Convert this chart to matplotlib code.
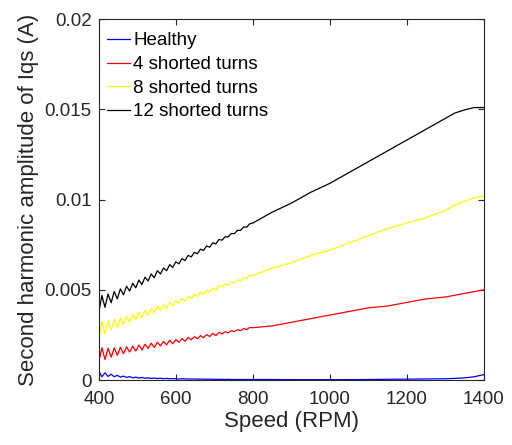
import matplotlib
matplotlib.use('Agg')
import matplotlib.pyplot as plt

plt.rcParams['font.family'] = ['Liberation Sans', 'DejaVu Sans']

# speed grid: fine steps where the ripple is, coarse afterwards
speed = [400, 408, 416, 424, 432, 440, 448, 456, 464, 472,
         480, 488, 496, 504, 512, 520, 528, 536, 544, 552,
         560, 568, 576, 584, 592, 600, 608, 616, 624, 632,
         640, 648, 656, 664, 672, 680, 688, 696, 704, 712,
         720, 728, 736, 744, 752, 760, 768, 776, 784, 792, 800,
         850, 900, 950, 1000, 1050, 1100, 1150, 1200, 1250, 1300, 1325, 1350, 1375, 1400]

healthy = [0.00050, 0.00018, 0.00040, 0.00020, 0.00032, 0.00018, 0.00026, 0.00016, 0.00022, 0.00014,
           0.00019, 0.00012, 0.00016, 0.00011, 0.00014, 0.00010, 0.00012, 0.00009, 0.00011, 0.00008,
           0.00010, 0.00007, 0.00009, 0.00007, 0.00008, 0.00007, 0.00006, 0.00007, 0.00006, 0.00006,
           0.00005, 0.00006, 0.00005, 0.00005, 0.00005, 0.00004, 0.00005, 0.00004, 0.00004, 0.00004,
           0.00004, 0.00003, 0.00004, 0.00003, 0.00003, 0.00003, 0.00003, 0.00003, 0.00003, 0.00003, 0.00003,
           0.00003, 0.00002, 0.00002, 0.00002, 0.00002, 0.00003, 0.00004, 0.00005, 0.00006, 0.00007,
           0.00009, 0.00012, 0.00018, 0.00030]

turns4 = [0.00100, 0.00179, 0.00114, 0.00176, 0.00127, 0.00178, 0.00137, 0.00181, 0.00146, 0.00184,
          0.00155, 0.00188, 0.00161, 0.00194, 0.00167, 0.00198, 0.00175, 0.00204, 0.00181, 0.00210,
          0.00189, 0.00214, 0.00195, 0.00220, 0.00201, 0.00224, 0.00209, 0.00230, 0.00215, 0.00236,
          0.00223, 0.00240, 0.00229, 0.00246, 0.00235, 0.00252, 0.00241, 0.00258, 0.00247, 0.00264,
          0.00256, 0.00267, 0.00262, 0.00273, 0.00268, 0.00279, 0.00274, 0.00285, 0.00280, 0.00291, 0.00290,
          0.0030, 0.0032, 0.0034, 0.0036, 0.0038, 0.0040, 0.0041, 0.0043, 0.0045, 0.0046,
          0.0047, 0.0048, 0.0049, 0.0050]

turns8 = [0.00235, 0.00326, 0.00257, 0.00328, 0.00276, 0.00336, 0.00292, 0.00344, 0.00308, 0.00353,
          0.00323, 0.00363, 0.00335, 0.00375, 0.00347, 0.00385, 0.00361, 0.00397, 0.00373, 0.00409,
          0.00388, 0.00418, 0.00400, 0.00430, 0.00412, 0.00440, 0.00426, 0.00452, 0.00438, 0.00464,
          0.00452, 0.00474, 0.00464, 0.00486, 0.00476, 0.00498, 0.00488, 0.00510, 0.00500, 0.00522,
          0.00515, 0.00531, 0.00527, 0.00543, 0.00539, 0.00555, 0.00551, 0.00567, 0.00563, 0.00579, 0.00580,
          0.0062, 0.0065, 0.0069, 0.0072, 0.0076, 0.0080, 0.0084, 0.0087, 0.0090, 0.0094,
          0.0097, 0.0099, 0.0101, 0.0102]

turns12 = [0.00375, 0.00469, 0.00403, 0.00477, 0.00428, 0.00491, 0.00450, 0.00505, 0.00472, 0.00520,
           0.00493, 0.00536, 0.00511, 0.00554, 0.00529, 0.00570, 0.00549, 0.00588, 0.00567, 0.00606,
           0.00588, 0.00621, 0.00606, 0.00639, 0.00624, 0.00655, 0.00644, 0.00673, 0.00662, 0.00691,
           0.00682, 0.00707, 0.00700, 0.00725, 0.00718, 0.00743, 0.00736, 0.00761, 0.00754, 0.00779,
           0.00775, 0.00794, 0.00793, 0.00812, 0.00811, 0.00830, 0.00829, 0.00848, 0.00847, 0.00866, 0.00870,
           0.0093, 0.0098, 0.0104, 0.0109, 0.0115, 0.0121, 0.0127, 0.0133, 0.0139, 0.0145,
           0.0148, 0.01497, 0.0151, 0.0151]

xticks = [400, 600, 800, 1000, 1200, 1400]
yticks = [0, 0.005, 0.01, 0.015, 0.02]
ytick_labels = ['0', '0.005', '0.01', '0.015', '0.02']

fig = plt.figure(figsize=(5.12, 4.45), dpi=100)
ax = fig.add_axes([0.193, 0.146, 0.752, 0.811])

lw = 0.9
ax.plot(speed, healthy, color='#0000ff', lw=lw, label='Healthy')
ax.plot(speed, turns4, color='#ff0000', lw=lw, label='4 shorted turns')
ax.plot(speed, turns8, color='#ffff00', lw=lw, label='8 shorted turns')
ax.plot(speed, turns12, color='#000000', lw=lw, label='12 shorted turns')

ax.set_xlim(400, 1400)
ax.set_ylim(0, 0.02)
ax.set_xticks(xticks)
ax.set_yticks(yticks)
ax.set_yticklabels(ytick_labels)
ax.tick_params(direction='in', top=True, right=True, labelsize=13.5,
               colors='#262626', length=4, width=0.8)
ax.tick_params(axis='x', pad=8)
ax.tick_params(axis='y', pad=5)
for s in ax.spines.values():
    s.set_color('#262626')
    s.set_linewidth(0.8)

ax.set_xlabel('Speed (RPM)', fontsize=16, color='#262626', labelpad=2)
ax.set_ylabel('Second harmonic amplitude of Iqs (A)', fontsize=16, color='#262626', labelpad=4)

ax.legend(loc='upper left', bbox_to_anchor=(-0.013, 1.0), frameon=False, fontsize=13.5,
          handlelength=1.25, handletextpad=0.15, labelspacing=0.35,
          borderaxespad=0.5, borderpad=0.2)

plt.savefig('out.png', dpi=100)
